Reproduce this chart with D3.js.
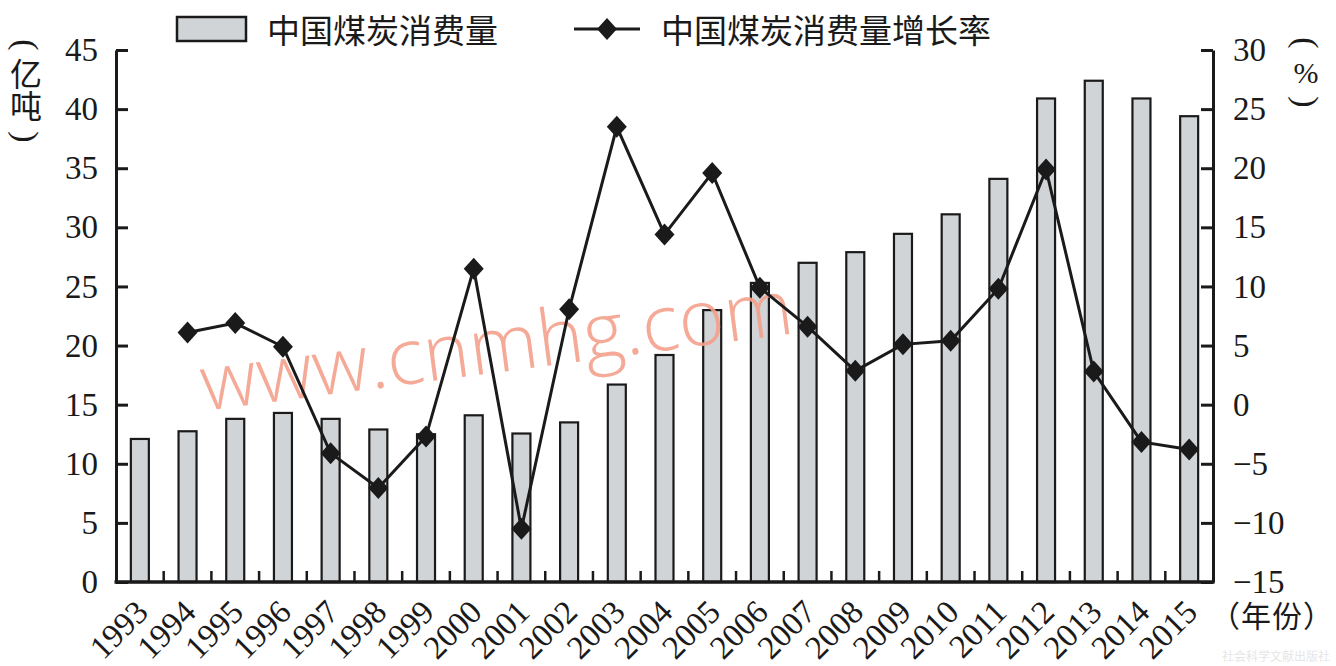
<!DOCTYPE html>
<html><head><meta charset="utf-8">
<script src="https://cdn.jsdelivr.net/npm/d3@7"></script>
<style>body{margin:0;background:#fff} svg{display:block}</style>
</head><body>
<svg id="c" width="1336" height="666"></svg>
<script>
const years = ["1993","1994","1995","1996","1997","1998","1999","2000","2001","2002","2003","2004","2005","2006","2007","2008","2009","2010","2011","2012","2013","2014","2015"];
const consumption = [12.1,12.75,13.8,14.3,13.8,12.9,12.5,14.1,12.56,13.5,16.7,19.2,23.0,25.3,27.0,27.9,29.45,31.1,34.1,40.9,42.4,40.9,39.4];
const growthYears = years.slice(1);
const growth = [6.1,6.9,4.9,-4.1,-7.05,-2.7,11.5,-10.5,8.07,23.5,14.4,19.6,9.9,6.6,2.86,5.1,5.4,9.8,19.9,2.8,-3.15,-3.8];
const leftTicks = [0,5,10,15,20,25,30,35,40,45];
const rightTicks = [-15,-10,-5,0,5,10,15,20,25,30];
const seriesNames = ["中国煤炭消费量","中国煤炭消费量增长率"];
const leftUnit = ["(", "亿吨", ")"], rightUnit = ["(", "%", ")"], xUnit = "（年份）";
const watermark = "www.cnmhg.com", publisher = "社会科学文献出版社";

const svg = d3.select("#c");
const L = 116, R = 1213, T = 50, B = 582;
const CJK = "'Noto Sans CJK SC', sans-serif";
const SERIF = "'Liberation Serif', 'Times New Roman', serif";
const barFill = "#d1d4d6", ink = "#1a1a1a";

const x = d3.scaleBand().domain(years).range([L, R]).padding(0);
const yL = d3.scaleLinear().domain([0, 45]).range([B, T]);
const yR = d3.scaleLinear().domain([-15, 30]).range([B, T]);
const barW = 18;

// bars
svg.append("g").selectAll("rect").data(years).join("rect")
  .attr("x", d => x(d) + x.bandwidth()/2 - barW/2)
  .attr("y", (d,i) => yL(consumption[i]))
  .attr("width", barW)
  .attr("height", (d,i) => B - yL(consumption[i]))
  .attr("fill", barFill).attr("stroke", ink).attr("stroke-width", 2.2);

// watermark
svg.append("text").text(watermark)
  .attr("transform", "translate(204,411) rotate(-7.5)")
  .attr("font-family", "'Open Sans', sans-serif").attr("font-weight", 300)
  .attr("font-size", 78).attr("fill", "#f4a08c").attr("opacity", 0.9);

// left axis
const axL = svg.append("g").attr("transform", `translate(${L},0)`)
  .call(d3.axisLeft(yL).tickValues(leftTicks).tickSizeInner(-12).tickSizeOuter(0).tickPadding(18));
// right axis
const axR = svg.append("g").attr("transform", `translate(${R},0)`)
  .call(d3.axisRight(yR).tickValues(rightTicks).tickSizeInner(-12).tickSizeOuter(0).tickPadding(20));
[axL, axR].forEach(a => {
  a.select(".domain").attr("stroke", ink).attr("stroke-width", 3);
  a.selectAll(".tick line").attr("stroke", ink).attr("stroke-width", 3);
  a.selectAll(".tick text").attr("font-family", SERIF).attr("font-size", 33).attr("fill", ink);
});

// bottom axis line and category boundary ticks
svg.append("line").attr("x1", L - 1.5).attr("x2", R + 1.5).attr("y1", B).attr("y2", B)
  .attr("stroke", ink).attr("stroke-width", 3.5);
svg.append("g").selectAll("line").data(years.slice(1)).join("line")
  .attr("x1", d => x(d)).attr("x2", d => x(d))
  .attr("y1", B).attr("y2", B - 11)
  .attr("stroke", ink).attr("stroke-width", 2.5);
svg.append("g").selectAll("text").data(years).join("text")
  .text(d => d)
  .attr("transform", d => `translate(${x(d) + x.bandwidth()/2 + 10},${B + 32}) rotate(-45)`)
  .attr("text-anchor", "end")
  .attr("font-family", SERIF).attr("font-size", 33).attr("fill", ink);

// growth line
const line = d3.line().x((d,i) => x(growthYears[i]) + x.bandwidth()/2).y(d => yR(d));
svg.append("path").datum(growth).attr("d", line)
  .attr("fill", "none").attr("stroke", ink).attr("stroke-width", 3).attr("stroke-linejoin", "miter");
const diamond = "M0,-11L10,0L0,11L-10,0Z";
svg.append("g").selectAll("path").data(growth).join("path")
  .attr("d", diamond)
  .attr("transform", (d,i) => `translate(${x(growthYears[i]) + x.bandwidth()/2},${yR(d)})`)
  .attr("fill", ink);

// legend
svg.append("rect").attr("x", 177).attr("y", 17).attr("width", 69).attr("height", 24)
  .attr("fill", barFill).attr("stroke", ink).attr("stroke-width", 2.5);
svg.append("text").text(seriesNames[0]).attr("x", 267).attr("y", 29)
  .attr("dominant-baseline", "central").attr("font-family", CJK).attr("font-size", 33).attr("fill", ink);
svg.append("line").attr("x1", 574).attr("x2", 640).attr("y1", 29).attr("y2", 29)
  .attr("stroke", ink).attr("stroke-width", 3);
svg.append("path").attr("d", diamond).attr("transform", "translate(607,29)").attr("fill", ink);
svg.append("text").text(seriesNames[1]).attr("x", 661).attr("y", 29)
  .attr("dominant-baseline", "central").attr("font-family", CJK).attr("font-size", 33).attr("fill", ink);

// unit labels (parentheses turned for vertical setting)
function arc(ch, cx, cy, size) {
  svg.append("text").text(ch)
    .attr("transform", `translate(${cx},${cy}) rotate(90)`)
    .attr("text-anchor", "middle").attr("dominant-baseline", "central")
    .attr("font-family", SERIF).attr("font-size", size).attr("fill", ink);
}
arc(leftUnit[0], 26, 45, 34);
svg.append("text").text(leftUnit[1])
  .attr("x", 26).attr("y", 90)
  .attr("text-anchor", "middle")
  .style("writing-mode", "vertical-rl")
  .attr("font-family", CJK).attr("font-size", 32).attr("fill", ink);
arc(leftUnit[2], 26, 137, 34);

arc(rightUnit[0], 1306, 43, 34);
svg.append("text").text(rightUnit[1])
  .attr("x", 1306).attr("y", 83).attr("text-anchor", "middle")
  .attr("font-family", SERIF).attr("font-size", 30).attr("fill", ink);
arc(rightUnit[2], 1306, 102, 34);

svg.append("text").text(xUnit)
  .attr("x", 1210).attr("y", 614)
  .attr("dominant-baseline", "central").attr("letter-spacing", 1)
  .attr("font-family", CJK).attr("font-size", 30).attr("fill", ink);

// publisher mark
svg.append("text").text(publisher).attr("x", 1330).attr("y", 661)
  .attr("text-anchor", "end").attr("font-family", CJK).attr("font-size", 12).attr("fill", "#e6e6e6");
</script>
</body></html>
